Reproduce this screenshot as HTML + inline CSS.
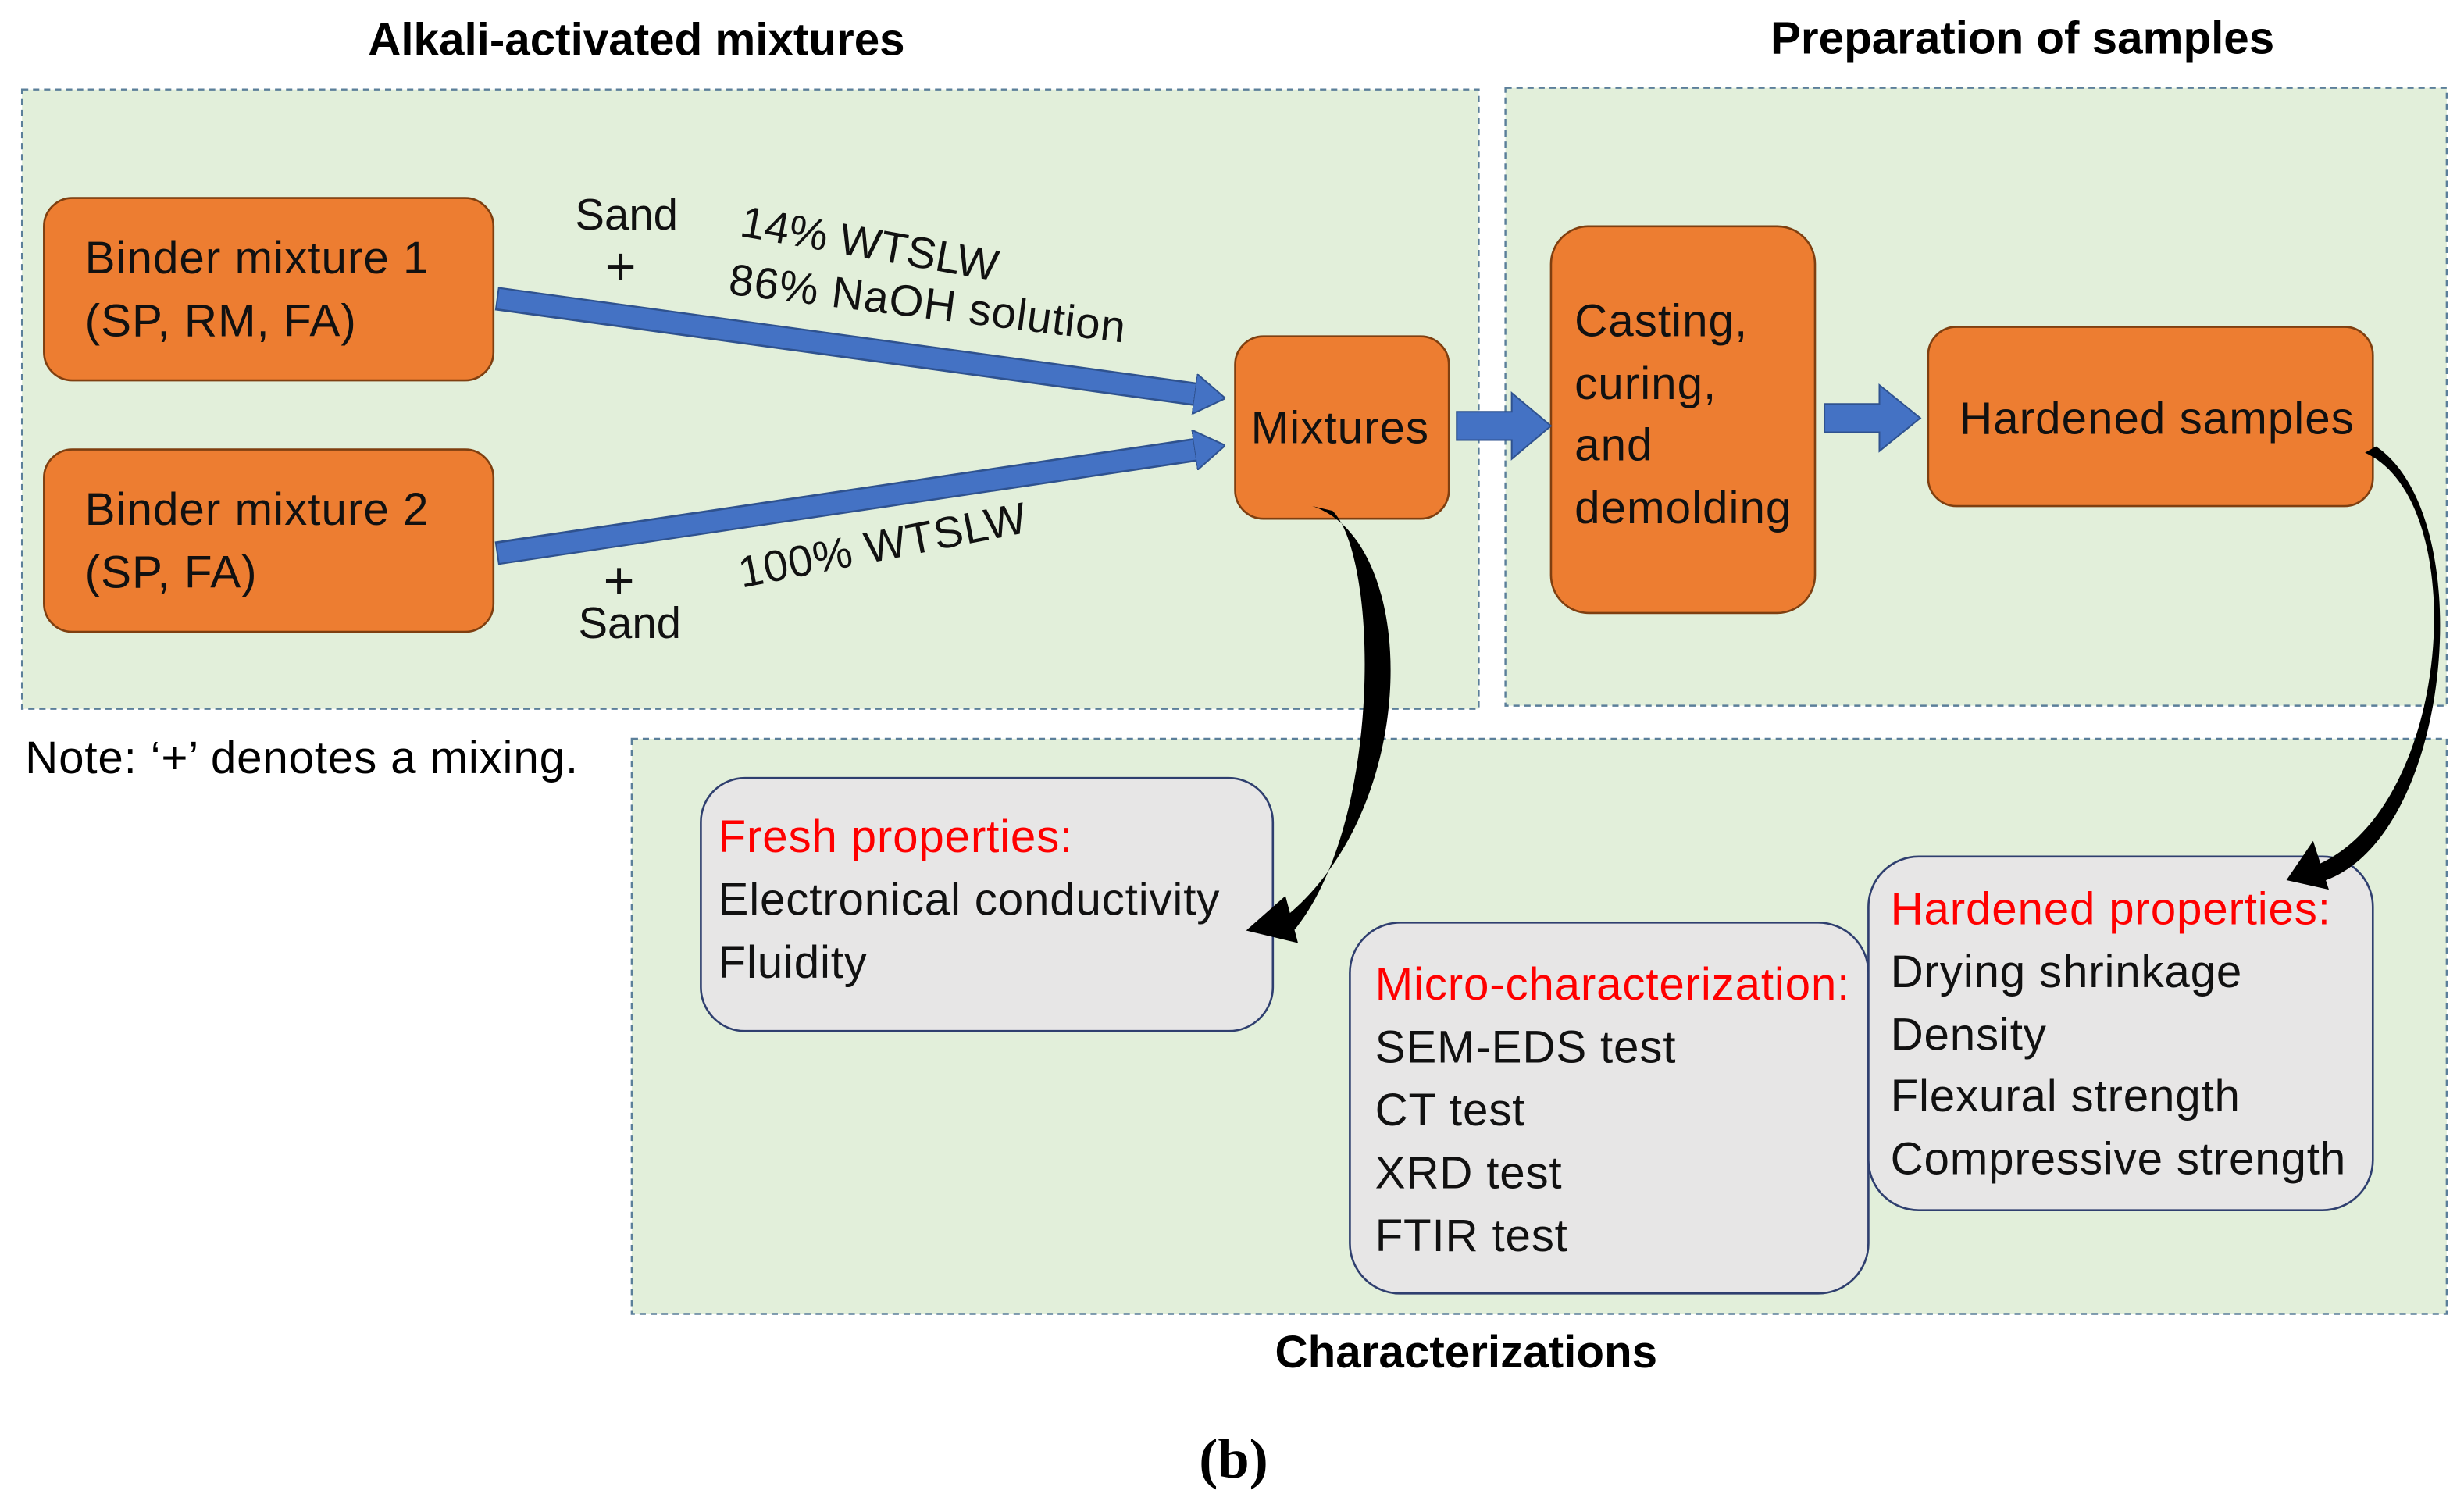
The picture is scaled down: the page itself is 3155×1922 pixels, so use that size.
<!DOCTYPE html>
<html><head><meta charset="utf-8"><style>
html,body{margin:0;padding:0;background:#fff;}
svg{display:block;}
text{font-family:"Liberation Sans",sans-serif;}
</style></head><body>
<svg width="3155" height="1922" viewBox="0 0 1568 955" preserveAspectRatio="none" xmlns="http://www.w3.org/2000/svg">
<defs>
<marker id="bh" markerWidth="20" markerHeight="26" refX="2" refY="13" orient="auto" markerUnits="userSpaceOnUse">
<path d="M0,0 L20,13 L0,26 Z" fill="#4472C4" stroke="#2F528F" stroke-width="1"/>
</marker>
</defs>
<!-- panels -->
<rect x="14" y="57" width="927" height="394" fill="#E2EFDA" stroke="#5B7F9A" stroke-dasharray="4,3" stroke-width="1.2"/>
<rect x="958" y="56" width="599" height="393" fill="#E2EFDA" stroke="#5B7F9A" stroke-dasharray="4,3" stroke-width="1.2"/>
<rect x="402" y="470" width="1155" height="366" fill="#E2EFDA" stroke="#5B7F9A" stroke-dasharray="4,3" stroke-width="1.2"/>
<!-- titles -->
<text x="405" y="35" font-size="29" font-weight="bold" text-anchor="middle">Alkali-activated mixtures</text>
<text x="1287" y="34" font-size="29" font-weight="bold" text-anchor="middle">Preparation of samples</text>
<text x="933" y="870" font-size="29" font-weight="bold" text-anchor="middle">Characterizations</text>
<text x="785" y="940" font-size="36" font-weight="bold" text-anchor="middle" style="font-family:'Liberation Serif',serif">(b)</text>
<text x="16" y="492" font-size="29" letter-spacing="0.4">Note: ‘+’ denotes a mixing.</text>
<!-- orange boxes -->
<g fill="#ED7D31" stroke="#7F3F10" stroke-width="1.3">
<rect x="28" y="126" width="286" height="116" rx="18"/>
<rect x="28" y="286" width="286" height="116" rx="18"/>
<rect x="786" y="214" width="136" height="116" rx="18"/>
<rect x="987" y="144" width="168" height="246" rx="24"/>
<rect x="1227" y="208" width="283" height="114" rx="18"/>
</g>
<g font-size="29" fill="#111" letter-spacing="0.5">
<text x="54" y="174">Binder mixture 1</text>
<text x="54" y="214">(SP, RM, FA)</text>
<text x="54" y="334">Binder mixture 2</text>
<text x="54" y="374">(SP, FA)</text>
<text x="796" y="282">Mixtures</text>
<text x="1002" y="214">Casting,</text>
<text x="1002" y="254">curing,</text>
<text x="1002" y="293">and</text>
<text x="1002" y="333">demolding</text>
<text x="1247" y="276">Hardened samples</text>
</g>
<!-- blue arrows -->
<line x1="316" y1="190" x2="762" y2="251" stroke="#2F528F" stroke-width="15"/>
<line x1="316" y1="352" x2="762" y2="286" stroke="#2F528F" stroke-width="15"/>
<line x1="317" y1="190" x2="762" y2="251" stroke="#4472C4" stroke-width="12.5" marker-end="url(#bh)"/>
<line x1="317" y1="352" x2="762" y2="286" stroke="#4472C4" stroke-width="12.5" marker-end="url(#bh)"/>
<polygon points="927,262 962,262 962,250 987,271 962,292 962,280 927,280" fill="#4472C4" stroke="#2F528F"/>
<polygon points="1161,257 1196,257 1196,245 1222,266 1196,287 1196,275 1161,275" fill="#4472C4" stroke="#2F528F"/>
<!-- labels on arrows -->
<g font-size="28" fill="#111">
<text x="366" y="146">Sand</text>
<text x="385" y="181" font-size="34">+</text>
<text x="384" y="381" font-size="34">+</text>
<text x="368" y="406">Sand</text>
<text x="470" y="150" transform="rotate(10 470 150)">14% WTSLW</text>
<text x="463" y="187" transform="rotate(7 463 187)" letter-spacing="0.5">86% NaOH solution</text>
<text x="472" y="374" transform="rotate(-11 472 374)" letter-spacing="0.5">100% WTSLW</text>
</g>
<!-- gray boxes -->
<g fill="#E7E6E6" stroke="#2F3F6F" stroke-width="1.3">
<rect x="446" y="495" width="364" height="161" rx="28"/>
<rect x="859" y="587" width="330" height="236" rx="32"/>
<rect x="1189" y="545" width="321" height="225" rx="32"/>
</g>
<g font-size="29" fill="#111" letter-spacing="0.4">
<text x="457" y="542" fill="#FF0000">Fresh properties:</text>
<text x="457" y="582">Electronical conductivity</text>
<text x="457" y="622">Fluidity</text>
<text x="875" y="636" fill="#FF0000">Micro-characterization:</text>
<text x="875" y="676">SEM-EDS test</text>
<text x="875" y="716">CT test</text>
<text x="875" y="756">XRD test</text>
<text x="875" y="796">FTIR test</text>
<text x="1203" y="588" fill="#FF0000">Hardened properties:</text>
<text x="1203" y="628">Drying shrinkage</text>
<text x="1203" y="668">Density</text>
<text x="1203" y="707">Flexural strength</text>
<text x="1203" y="747">Compressive strength</text>
</g>
<!-- black curved arrows -->
<path d="M835,322 C905,345 905,520 812,588 L820,596 C880,530 878,355 848,325 Z" fill="#000"/>
<polygon points="793,592 818,570 826,600" fill="#000"/>
<path d="M1505,288 C1575,320 1560,520 1470,552 L1474,562 C1560,540 1580,330 1512,284 Z" fill="#000"/>
<polygon points="1455,560 1472,535 1482,566" fill="#000"/>
</svg>
</body></html>
